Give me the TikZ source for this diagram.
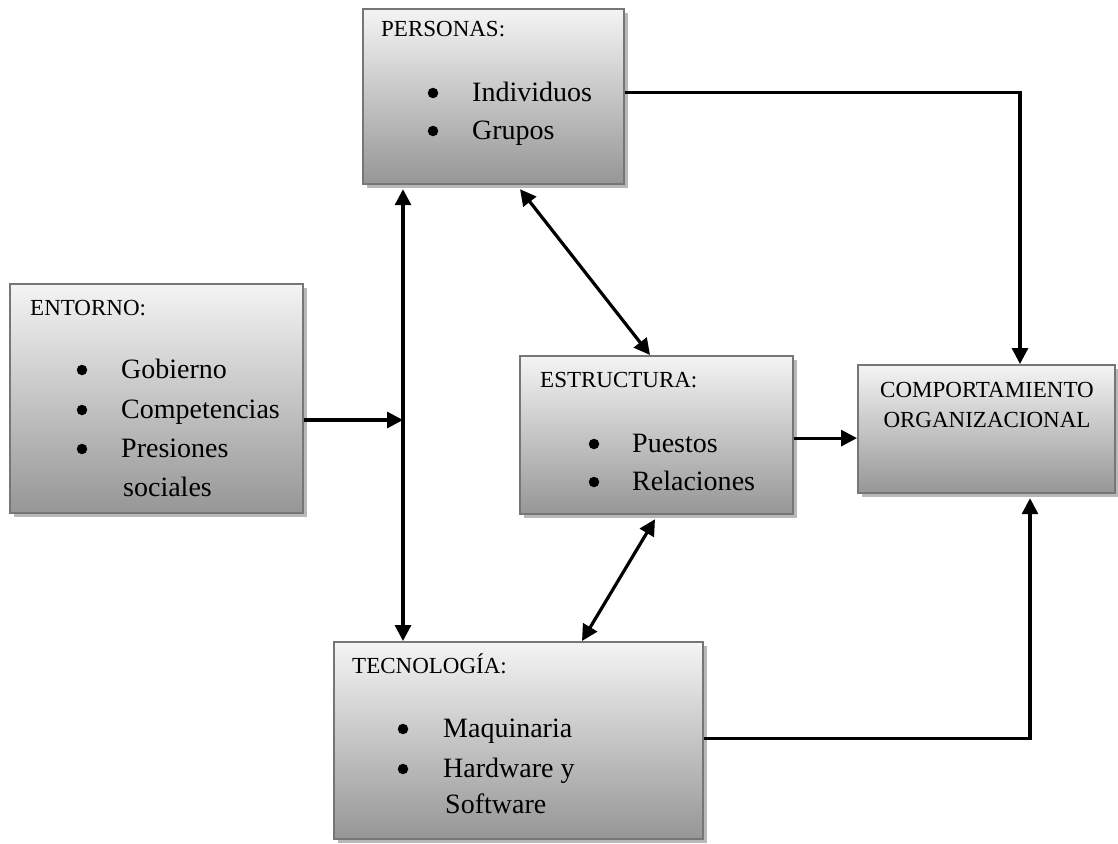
\documentclass[tikz,border=0pt]{standalone}
\usepackage{fontspec}
\setmainfont{Liberation Serif}
\usetikzlibrary{arrows.meta,shadows}
\definecolor{boxedge}{HTML}{767676}
\definecolor{boxtop}{HTML}{F4F4F4}
\definecolor{boxbot}{HTML}{969696}
\definecolor{shadowgray}{HTML}{B8B8B8}
\begin{document}
\begin{tikzpicture}[x=1pt,y=-1pt,
  box/.style={rectangle, draw=boxedge, line width=2.2pt, inner sep=0pt,
    anchor=north west, top color=boxtop, bottom color=boxbot,
    drop shadow={shadow xshift=4pt, shadow yshift=-4pt, opacity=1,
      fill=shadowgray, draw=none}},
  head/.style={anchor=base west, inner sep=0pt, font=\fontsize{23}{27}\selectfont},
  item/.style={anchor=base west, inner sep=0pt, font=\fontsize{28}{32}\selectfont},
  dot/.style={circle, fill=black, inner sep=0pt, minimum size=10.5pt, yshift=8pt},
  arr/.style={line width=3.2pt, -{Triangle[length=16pt,width=16pt]}},
  dbl/.style={line width=3.2pt, {Triangle[length=16pt,width=16pt]}-{Triangle[length=16pt,width=16pt]}}]
\useasboundingbox (0,0) rectangle (1118,843);

% boxes
\node[box, minimum width=261pt, minimum height=175pt] (personas) at (362,8) {};
\node[box, minimum width=293pt, minimum height=229pt] (entorno) at (9,283) {};
\node[box, minimum width=273pt, minimum height=158pt] (estructura) at (519,355) {};
\node[box, minimum width=257pt, minimum height=128pt] (comportamiento) at (857,364) {};
\node[box, minimum width=369pt, minimum height=197pt] (tecnologia) at (333,641) {};

% PERSONAS
\node[head] (hPer) at (381,37) {PERSONAS:};
\node[dot] (bPer1) at (433,101) {};
\node[item] (tPer1) at (472,101) {Individuos};
\node[dot] (bPer2) at (433,139) {};
\node[item] (tPer2) at (472,139) {Grupos};

% ENTORNO
\node[head] (hEnt) at (30,315) {ENTORNO:};
\node[dot] (bEnt1) at (82,378) {};
\node[item] (tEnt1) at (121,378) {Gobierno};
\node[dot] (bEnt2) at (82,418) {};
\node[item] (tEnt2) at (121,418) {Competencias};
\node[dot] (bEnt3) at (82,457) {};
\node[item] (tEnt3) at (121,457) {Presiones};
\node[item] (tEnt4) at (123,496) {sociales};

% ESTRUCTURA
\node[head] (hEst) at (540,387) {ESTRUCTURA:};
\node[dot] (bEst1) at (594,452) {};
\node[item] (tEst1) at (632,452) {Puestos};
\node[dot] (bEst2) at (594,490) {};
\node[item] (tEst2) at (632,490) {Relaciones};

% COMPORTAMIENTO ORGANIZACIONAL
\node[anchor=base, inner sep=0pt, font=\fontsize{23}{27}\selectfont] (tCo1) at (987,397) {COMPORTAMIENTO};
\node[anchor=base, inner sep=0pt, font=\fontsize{23}{27}\selectfont] (tCo2) at (987,427) {ORGANIZACIONAL};

% TECNOLOGIA
\node[head] (hTec) at (352,673) {TECNOLOGÍA:};
\node[dot] (bTec1) at (403,737) {};
\node[item] (tTec1) at (443,737) {Maquinaria};
\node[dot] (bTec2) at (403,777) {};
\node[item] (tTec2) at (443,777) {Hardware y};
\node[item] (tTec3) at (445,813) {Software};

% connectors
\coordinate (join) at (403,420);
\draw[dbl] ([xshift=41pt,yshift=-4pt]personas.south west) -- ([xshift=70pt]tecnologia.north west);
\draw[arr] (entorno.east |- join) -- (join);
\draw[dbl] ([xshift=158pt,yshift=-4pt]personas.south west) -- ([xshift=131pt]estructura.north west);
\draw[dbl] ([xshift=136pt,yshift=-4pt]estructura.south west) -- ([xshift=249pt]tecnologia.north west);
\draw[arr] ([yshift=-3pt]estructura.east) -- ([yshift=-3pt]estructura.east -| comportamiento.west);
\draw[arr] ([yshift=4.5pt]personas.east) -| ([xshift=163pt]comportamiento.north west);
\draw[arr] ([yshift=2.5pt]tecnologia.east) -| ([xshift=173pt,yshift=-4pt]comportamiento.south west);
\end{tikzpicture}
\end{document}
